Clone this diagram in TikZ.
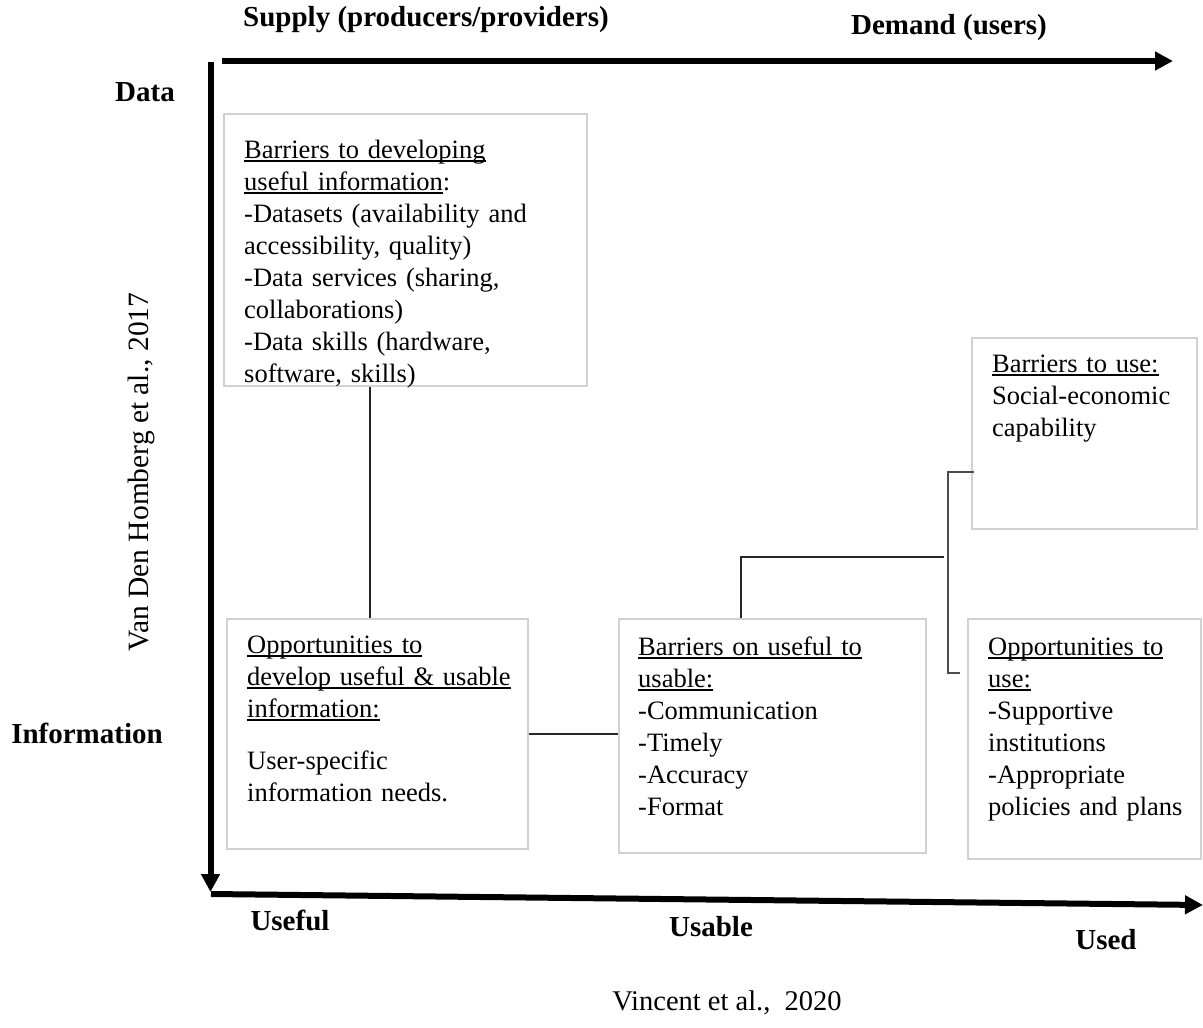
\documentclass[tikz,border=0pt]{standalone}
\usepackage{fontspec}
\setmainfont{Liberation Serif}
\usetikzlibrary{arrows.meta}
\newcommand\ulu[1]{\leavevmode\setbox0\hbox{#1}\rlap{\rule[-4pt]{\wd0}{1.7pt}}\box0}
\begin{document}
\begin{tikzpicture}[x=1pt,y=-1pt,
  box/.style={draw=black!18, line width=1.6pt, inner sep=0pt, anchor=north west},
  txt/.style={inner sep=0pt, anchor=base west, align=left, text width=345pt,
              font=\fontsize{26.5}{32}\selectfont},
  lbl/.style={inner sep=0pt, font=\fontsize{29}{34}\selectfont\bfseries},
  cite/.style={inner sep=0pt, font=\fontsize{28.5}{34}\selectfont},
  axis/.style={line width=6pt, -{Triangle[length=18pt,width=18pt]}},
  conn/.style={line width=1.5pt, black!85},
  brk/.style={line width=2pt, black!70}]
\useasboundingbox (0,0) rectangle (1203,1028);

% axes
\coordinate (vtop) at (210.5,62);
\coordinate (vbot) at (210.5,892);
\coordinate (htl) at (222,61);
\coordinate (htr) at (1173,61);
\coordinate (hbl) at (211,894);
\coordinate (hbr) at (1203,905);
\draw[axis] (vtop) -- (vbot);
\draw[axis] (htl) -- (htr);
\draw[axis] (hbl) -- (hbr);

% axis labels
\node[lbl] (supply) at (426,20) {Supply (producers/providers)};
\node[lbl] (demand) at (949,28) {Demand (users)};
\node[lbl] (data) at (145,92) {Data};
\node[lbl] (info) at (87,733) {Information};
\node[lbl] (useful) at (290,920) {Useful};
\node[lbl] (usable) at (711,927) {Usable};
\node[lbl] (used) at (1106,940) {Used};
\node[cite] (vincent) at (727,1003) {Vincent et al.,\ \ 2020};
\node[cite, rotate=90, anchor=base west, font=\fontsize{29.5}{34}\selectfont] (vdh) at (148,652)
  {Van Den Homberg et al., 2017};

% boxes
\node[box, minimum width=363pt, minimum height=272pt] (b1) at (223,113) {};
\node[box, minimum width=301pt, minimum height=230pt] (b2) at (226,618) {};
\node[box, minimum width=307pt, minimum height=234pt] (b3) at (618,618) {};
\node[box, minimum width=225pt, minimum height=191pt] (b4) at (971,337) {};
\node[box, minimum width=233pt, minimum height=240pt] (b5) at (967,618) {};

% box texts
\node[txt] (t1) at (244,158) {\ulu{Barriers to developing}\\
  \ulu{useful information}:\\
  -Datasets (availability and\\
  accessibility, quality)\\
  -Data services (sharing,\\
  collaborations)\\
  -Data skills (hardware,\\
  software, skills)};
\node[txt] (t2) at (247,653) {\ulu{Opportunities to}\\
  \ulu{develop useful \& usable}\\
  \ulu{information:}\\[20pt]
  User-specific\\
  information needs.};
\node[txt] (t3) at (638,655) {\ulu{Barriers on useful to}\\
  \ulu{usable:}\\
  -Communication\\
  -Timely\\
  -Accuracy\\
  -Format};
\node[txt] (t4) at (992,372) {\ulu{Barriers to use:}\\
  Social-economic\\
  capability};
\node[txt] (t5) at (988,655) {\ulu{Opportunities to}\\
  \ulu{use:}\\
  -Supportive\\
  institutions\\
  -Appropriate\\
  policies and plans};

% connectors
\draw[conn] (b1.south -| 370,0) -- (b2.north -| 370,0);
\draw[conn] (b2.east) -- (b2.east -| b3.west);
\coordinate (j) at (944,557);
\draw[conn] (b3.north -| 741,0) |- (j);
\coordinate (bt) at (948,472);
\coordinate (bb) at (948,673);
\coordinate (bbe) at (960,673);
\draw[brk] ([xshift=3pt]b4.west |- bt) -- (bt) -- (bb) -- (bbe);
\end{tikzpicture}
\end{document}
